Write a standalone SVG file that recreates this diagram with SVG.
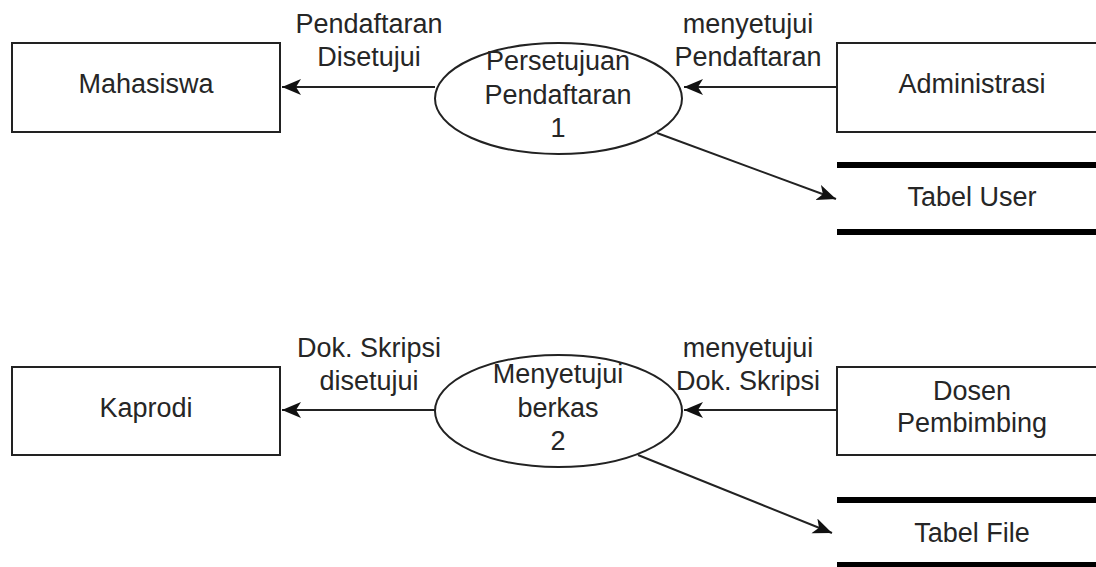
<svg xmlns="http://www.w3.org/2000/svg" width="1096" height="567" viewBox="0 0 1096 567">
  <style>
    .box { fill: #ffffff; stroke: #222222; stroke-width: 2; }
    .proc { fill: #ffffff; stroke: #222222; stroke-width: 2; }
    .store { stroke: #000000; stroke-width: 6; }
    .flow { fill: none; stroke: #222222; stroke-width: 2; marker-end: url(#arrow); }
    text { font-family: "Liberation Sans", Arial, sans-serif; font-size: 27px; fill: #262626; text-anchor: middle; }
  </style>
  <defs>
    <!-- filled arrowhead with a notched back, sized in user units -->
    <marker id="arrow" markerUnits="userSpaceOnUse" markerWidth="22" markerHeight="18" refX="19" refY="8" orient="auto">
      <path d="M0,0 L19,8 L0,16 L5,8 Z" fill="#111111"/>
    </marker>
  </defs>
  <rect width="1096" height="567" fill="#ffffff"/>

  <!-- data flows -->
  <g id="connectors">
    <line class="flow" x1="435" y1="87" x2="282" y2="87"/>
    <line class="flow" x1="837" y1="87" x2="684" y2="87"/>
    <line class="flow" x1="657" y1="133" x2="836" y2="199"/>
    <line class="flow" x1="435" y1="410" x2="282" y2="410"/>
    <line class="flow" x1="837" y1="410" x2="684" y2="410"/>
    <line class="flow" x1="638" y1="455" x2="832" y2="533"/>
    <text x="369" y="33">Pendaftaran</text>
    <text x="369" y="66">Disetujui</text>
    <text x="748" y="33">menyetujui</text>
    <text x="748" y="66">Pendaftaran</text>
    <text x="369" y="357">Dok. Skripsi</text>
    <text x="369" y="390">disetujui</text>
    <text x="748" y="357">menyetujui</text>
    <text x="748" y="390">Dok. Skripsi</text>
  </g>

  <!-- external entities -->
  <g id="mahasiswa">
    <rect class="box" x="12" y="43" width="268" height="89"/>
    <text x="146" y="93">Mahasiswa</text>
  </g>
  <g id="administrasi">
    <rect class="box" x="837" y="43" width="270" height="89"/>
    <text x="972" y="93">Administrasi</text>
  </g>
  <g id="kaprodi">
    <rect class="box" x="12" y="367" width="268" height="88"/>
    <text x="146" y="417">Kaprodi</text>
  </g>
  <g id="dosen-pembimbing">
    <rect class="box" x="837" y="367" width="270" height="88"/>
    <text x="972" y="400">Dosen</text>
    <text x="972" y="432">Pembimbing</text>
  </g>

  <!-- processes -->
  <g id="proses-1">
    <ellipse class="proc" cx="558.5" cy="98.5" rx="123.5" ry="55.5"/>
    <text x="558" y="70">Persetujuan</text>
    <text x="558" y="104">Pendaftaran</text>
    <text x="558" y="137">1</text>
  </g>
  <g id="proses-2">
    <ellipse class="proc" cx="558.5" cy="411" rx="123.5" ry="56"/>
    <text x="558" y="383">Menyetujui</text>
    <text x="558" y="417">berkas</text>
    <text x="558" y="450">2</text>
  </g>

  <!-- data stores -->
  <g id="tabel-user">
    <line class="store" x1="837" y1="165" x2="1096" y2="165"/>
    <line class="store" x1="837" y1="232" x2="1096" y2="232"/>
    <text x="972" y="206">Tabel User</text>
  </g>
  <g id="tabel-file">
    <line class="store" x1="837" y1="500" x2="1096" y2="500"/>
    <line class="store" x1="837" y1="565" x2="1096" y2="565"/>
    <text x="972" y="542">Tabel File</text>
  </g>
</svg>
